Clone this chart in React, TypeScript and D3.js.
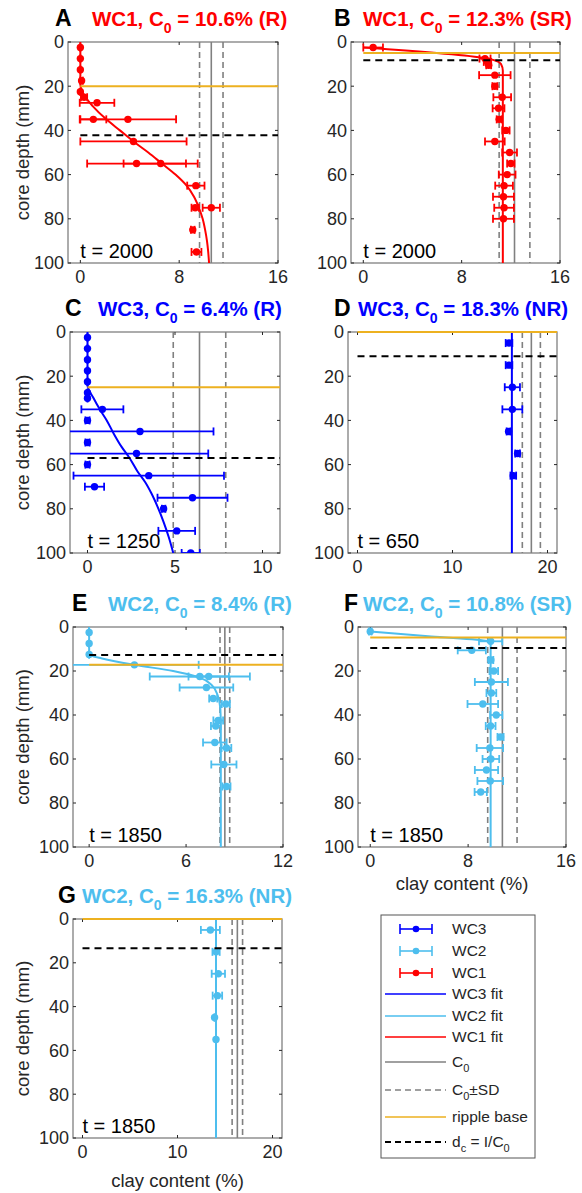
import * as d3 from "d3";

const RED = "#ff0000";
const BLUE = "#0000ff";
const CYAN = "#4dbeee";
const ORANGE = "#edb120";
const GRAY = "#808080";
const TXT = "#262626";
const FONT = "'Liberation Sans', Arial, sans-serif";

// ---- data: depth (mm), clay content (%), +/- error ----
// A: WC1 (R)
const depthA = [2.5, 7.5, 12.5, 17.5, 22.5, 25, 27.5, 35, 35, 45, 55, 55, 65, 75, 75, 85, 95];
const clayA = [0, 0, 0, 0.1, 0, 0.3, 1.35, 1.05, 3.85, 4.3, 4.55, 6.5, 9.35, 9.3, 10.6, 9.1, 9.4];
const errA = [0, 0, 0, 0.1, 0, 0.25, 1.4, 1.05, 3.9, 4.3, 4.0, 3.0, 0.7, 0.3, 0.7, 0.15, 0.4];
const fitA: [number, number][] = [
  [0, 0], [0, 19], [0.3, 24], [1.0, 29], [2.1, 35], [3.2, 40], [4.3, 45], [5.5, 50], [6.6, 55],
  [7.7, 60], [8.6, 65], [9.2, 70], [9.6, 75], [9.9, 80], [10.1, 85], [10.25, 90], [10.35, 95], [10.42, 100],
];

// B: WC1 (SR)
const depthB = [2.5, 7.5, 9, 10.5, 15, 20, 25, 30, 35, 40, 45, 50, 55, 60, 65, 70, 75, 80];
const clayB = [0.8, 9.9, 10.1, 10.2, 10.7, 10.7, 11.3, 11.0, 11.05, 11.6, 10.7, 11.9, 12.0, 11.7, 11.45, 11.4, 11.45, 11.4];
const errB = [0.8, 0.45, 0.3, 0.2, 1.28, 0.2, 0.72, 0.48, 0.2, 0.3, 0.8, 0.6, 0.3, 0.68, 0.72, 0.85, 0.8, 0.85];
const fitB: [number, number][] = [
  [0, 2.5], [9.9, 7.3], [10.8, 8.5], [11.2, 10], [11.35, 13], [11.35, 100],
];

// C: WC3 (R)
const depthC = [2.5, 7.5, 12.5, 17.5, 22.5, 27.5, 30, 35, 40, 45, 50, 55, 60, 65, 70, 75, 80, 90, 100];
const clayC = [0, 0, 0, 0, 0, 0, 0, 0.85, 0, 3.0, 0, 2.8, 0, 3.5, 0.4, 6.0, 4.35, 5.1, 5.9];
const errC = [0, 0, 0, 0, 0, 0, 0, 1.2, 0.12, 4.2, 0.12, 4.1, 0.12, 4.3, 0.55, 2.0, 0.1, 1.05, 0.52];
const fitC: [number, number][] = [
  [0, 0], [0, 24], [0.35, 30], [0.7, 35], [1.1, 40], [1.5, 46], [1.95, 52], [2.4, 57], [2.85, 63],
  [3.3, 68], [3.65, 73], [4.0, 79], [4.35, 86], [4.65, 93], [4.9, 100],
];

// D: WC3 (NR)
const depthD = [5, 15, 25, 35, 45, 55, 65];
const clayD = [15.95, 15.95, 16.3, 16.3, 15.9, 16.85, 16.4];
const errD = [0.35, 0.35, 0.8, 1.05, 0.2, 0.25, 0.3];
const fitD: [number, number][] = [[16.25, 0], [16.25, 100]];

// E: WC2 (R)
const depthE = [2.5, 7.5, 12.5, 17.2, 22.5, 22.5, 27.5, 32.5, 35, 42.5, 45, 52.5, 55, 62.5, 72.5];
const clayE = [0, 0, 0, 2.8, 6.85, 7.4, 7.26, 7.68, 8.46, 7.99, 7.84, 7.78, 8.5, 8.34, 8.5];
const errE = [0, 0, 0, 3.98, 3.1, 1.25, 1.66, 0.25, 0.25, 0.3, 0.3, 0.73, 0.3, 0.78, 0.25];
const fitE: [number, number][] = [
  [0, 0], [0, 12.5], [0.8, 14.3], [2.8, 17.2], [5.2, 20], [6.85, 23], [7.6, 26.5], [7.95, 31],
  [8.12, 37], [8.15, 45], [8.15, 100],
];

// F: WC2 (SR)
const depthF = [2, 6.5, 10.6, 15, 20, 25, 30, 35, 40, 45, 50, 55, 60, 65, 70, 75];
const clayF = [0, 9.84, 8.3, 9.86, 10.1, 9.9, 9.9, 9.2, 10.3, 9.84, 10.65, 9.78, 9.86, 9.5, 9.81, 9.03];
const errF = [0.1, 0.95, 1.15, 0.2, 0.35, 1.35, 0.4, 1.25, 0.5, 0.4, 0.25, 1.08, 0.68, 0.95, 1.05, 0.5];
const fitF: [number, number][] = [[0, 2], [5, 4.3], [9.5, 6.3], [9.84, 7.5], [9.84, 100]];

// G: WC2 (NR)
const depthG = [5, 15, 25, 35, 45, 55];
const clayG = [13.46, 14.06, 14.3, 14.2, 13.9, 14.05];
const errG = [1.0, 0.38, 0.7, 0.5, 0, 0];
const fitG: [number, number][] = [[14.05, 0], [14.05, 100]];

// panel parameters
const panelIds = ["A", "B", "C", "D", "E", "F", "G"];
const wells = ["WC1", "WC1", "WC3", "WC3", "WC2", "WC2", "WC2"];
const c0 = [10.6, 12.3, 6.4, 18.3, 8.4, 10.8, 16.3];
const c0sd = [0.95, 1.25, 1.5, 0.95, 0.3, 1.2, 0.55];
const regime = ["(R)", "(SR)", "(R)", "(NR)", "(R)", "(SR)", "(NR)"];
const times = [2000, 2000, 1250, 650, 1850, 1850, 1850];
const rippleBase = [20, 5, 25, 0, 17.2, 4.8, 0];
const dcDepth = [42.2, 8.3, 57, 11, 12.7, 9.6, 13.4];
const xMax = [16, 16, 11, 21, 12, 16, 21];
const xTicks = [[0, 8, 16], [0, 8, 16], [0, 5, 10], [0, 10, 20], [0, 6, 12], [0, 8, 16], [0, 10, 20]];
const yTicks = [0, 20, 40, 60, 80, 100];
const depths = [depthA, depthB, depthC, depthD, depthE, depthF, depthG];
const clays = [clayA, clayB, clayC, clayD, clayE, clayF, clayG];
const errs = [errA, errB, errC, errD, errE, errF, errG];
const fits = [fitA, fitB, fitC, fitD, fitE, fitF, fitG];

const wellColor: Record<string, string> = { WC1: RED, WC2: CYAN, WC3: BLUE };

const legendLabels = ["WC3", "WC2", "WC1", "WC3 fit", "WC2 fit", "WC1 fit", "C0", "C0±SD", "ripple base", "dc"];

// ---- layout ----
const layout: Record<string, { box: number[]; letterX: number; titleX: number; yLabel: boolean; xLabelDy: number }> = {
  A: { box: [68, 42, 278, 263], letterX: 55, titleX: 92, yLabel: true, xLabelDy: 0 },
  B: { box: [351, 42, 560, 263], letterX: 334, titleX: 363, yLabel: false, xLabelDy: 0 },
  C: { box: [70, 332, 280, 553], letterX: 65, titleX: 98, yLabel: true, xLabelDy: 0 },
  D: { box: [348, 332, 557, 553], letterX: 334, titleX: 358, yLabel: false, xLabelDy: 0 },
  E: { box: [73, 627, 283, 847], letterX: 72, titleX: 108, yLabel: true, xLabelDy: 0 },
  F: { box: [358, 627, 566, 847], letterX: 344, titleX: 363, yLabel: false, xLabelDy: 43 },
  G: { box: [73, 919, 282, 1138], letterX: 58, titleX: 82, yLabel: true, xLabelDy: 49 },
};

function Panel({ i }: { i: number }) {
  const id = panelIds[i];
  const L = layout[id];
  const [x0, y0, x1, y1] = L.box;
  const color = wellColor[wells[i]];
  const x = d3.scaleLinear().domain([-1, xMax[i]]).range([x0, x1]);
  const y = d3.scaleLinear().domain([0, 100]).range([y0, y1]);
  const line = d3
    .line<[number, number]>()
    .x((d) => x(d[0]))
    .y((d) => y(d[1]))
    .curve(d3.curveMonotoneY);
  const pts = depths[i].map((d, k) => ({ depth: d, clay: clays[i][k], err: errs[i][k] }));
  const clipId = `clip-${id}`;
  const tick = 3;

  return (
    <g>
      <defs>
        <clipPath id={clipId}>
          <rect x={x0} y={y0} width={x1 - x0} height={y1 - y0} />
        </clipPath>
      </defs>

      {/* axes box + inside ticks */}
      <rect x={x0} y={y0} width={x1 - x0} height={y1 - y0} fill="white" stroke={GRAY} strokeWidth={1.3} />
      {xTicks[i].map((t) => (
        <g key={`xt${t}`}>
          <line x1={x(t)} x2={x(t)} y1={y1} y2={y1 - tick} stroke={TXT} strokeWidth={1} />
          <line x1={x(t)} x2={x(t)} y1={y0} y2={y0 + tick} stroke={TXT} strokeWidth={1} />
          <text x={x(t)} y={y1 + 20} textAnchor="middle" fontSize={18} fill={TXT}>
            {t}
          </text>
        </g>
      ))}
      {yTicks.map((t) => (
        <g key={`yt${t}`}>
          <line x1={x0} x2={x0 + tick} y1={y(t)} y2={y(t)} stroke={TXT} strokeWidth={1} />
          <line x1={x1} x2={x1 - tick} y1={y(t)} y2={y(t)} stroke={TXT} strokeWidth={1} />
          <text x={x0 - 4} y={y(t)} dy="0.36em" textAnchor="end" fontSize={18} fill={TXT}>
            {t}
          </text>
        </g>
      ))}

      <g clipPath={`url(#${clipId})`}>
        {/* C0 and C0 +/- SD */}
        <line x1={x(c0[i])} x2={x(c0[i])} y1={y0} y2={y1} stroke={GRAY} strokeWidth={1.6} />
        {[c0[i] - c0sd[i], c0[i] + c0sd[i]].map((v, k) => (
          <line key={k} x1={x(v)} x2={x(v)} y1={y0} y2={y1} stroke={GRAY} strokeWidth={1.6} strokeDasharray="6 4" />
        ))}

        {/* error bars */}
        {pts.map((p, k) => {
          const cy = y(p.depth);
          const xl = x(p.clay - p.err);
          const xr = x(p.clay + p.err);
          return (
            <g key={k} stroke={color} strokeWidth={1.8}>
              <line x1={xl} x2={xr} y1={cy} y2={cy} />
              <line x1={xl} x2={xl} y1={cy - 4} y2={cy + 4} />
              <line x1={xr} x2={xr} y1={cy - 4} y2={cy + 4} />
            </g>
          );
        })}
        {pts.map((p, k) => (
          <circle key={`c${k}`} cx={x(p.clay)} cy={y(p.depth)} r={3.7} fill={color} />
        ))}

        {/* model fit */}
        <path d={line(fits[i]) ?? ""} fill="none" stroke={color} strokeWidth={2} />
      </g>

      {/* ripple base */}
      <line x1={x(0)} x2={x1} y1={y(rippleBase[i])} y2={y(rippleBase[i])} stroke={ORANGE} strokeWidth={2} />
      {/* d_c */}
      <line x1={x(0)} x2={x1} y1={y(dcDepth[i])} y2={y(dcDepth[i])} stroke="#000" strokeWidth={2} strokeDasharray="7 5" />

      <text x={x(0)} y={y1 - 5} fontSize={20} fill="#000">
        t = {times[i]}
      </text>

      {/* title */}
      <text x={L.letterX} y={y0 - 16} fontSize={23} fontWeight="bold" fill="#000">
        {id}
      </text>
      <text x={L.titleX} y={y0 - 16} fontSize={20.5} fontWeight="bold" fill={color}>
        {wells[i]}, C
        <tspan fontSize={14} dy={7}>0</tspan>
        <tspan dy={-7}>{` = ${c0[i]}% ${regime[i]}`}</tspan>
      </text>

      {L.yLabel && (
        <text transform={`translate(29, ${(y0 + y1) / 2}) rotate(-90)`} textAnchor="middle" fontSize={18.5} fill={TXT}>
          core depth (mm)
        </text>
      )}
      {L.xLabelDy > 0 && (
        <text x={(x0 + x1) / 2} y={y1 + L.xLabelDy} textAnchor="middle" fontSize={18.5} fill={TXT}>
          clay content (%)
        </text>
      )}
    </g>
  );
}

function Legend() {
  const bx = 381;
  const by = 915;
  const bw = 154;
  const bh = 243;
  const rowY = [929, 951, 973, 994, 1016, 1037, 1062, 1090, 1117, 1142];
  const styles = [
    { kind: "eb", color: BLUE },
    { kind: "eb", color: CYAN },
    { kind: "eb", color: RED },
    { kind: "ln", color: BLUE },
    { kind: "ln", color: CYAN },
    { kind: "ln", color: RED },
    { kind: "ln", color: GRAY },
    { kind: "dash", color: GRAY },
    { kind: "ln", color: ORANGE },
    { kind: "dashk", color: "#000" },
  ];
  const textX = 452;
  const sub = (main: string, s: string, rest = "") => (
    <>
      {main}
      <tspan fontSize={11} dy={5}>{s}</tspan>
      {rest && <tspan dy={-5}>{rest}</tspan>}
    </>
  );
  return (
    <g>
      <rect x={bx} y={by} width={bw} height={bh} fill="white" stroke="#555" strokeWidth={1} />
      {legendLabels.map((lab, k) => {
        const cy = rowY[k];
        const st = styles[k];
        let icon;
        if (st.kind === "eb") {
          icon = (
            <g stroke={st.color} strokeWidth={1.6}>
              <line x1={400} x2={432} y1={cy} y2={cy} />
              <line x1={400} x2={400} y1={cy - 5} y2={cy + 5} />
              <line x1={432} x2={432} y1={cy - 5} y2={cy + 5} />
              <circle cx={416} cy={cy} r={3.3} fill={st.color} stroke="none" />
            </g>
          );
        } else {
          icon = (
            <line
              x1={385}
              x2={446}
              y1={cy}
              y2={cy}
              stroke={st.color}
              strokeWidth={st.kind === "dashk" ? 2 : 1.6}
              strokeDasharray={st.kind === "ln" ? undefined : "6 4"}
            />
          );
        }
        let label: any = lab;
        if (lab === "C0") label = sub("C", "0");
        if (lab === "C0±SD") label = sub("C", "0", "±SD");
        if (lab === "dc") label = (
          <>
            d<tspan fontSize={11} dy={5}>c</tspan>
            <tspan dy={-5}> = I/C</tspan>
            <tspan fontSize={11} dy={5}>0</tspan>
          </>
        );
        return (
          <g key={k}>
            {icon}
            <text x={textX} y={cy + 5} fontSize={15.5} fill={TXT}>
              {label}
            </text>
          </g>
        );
      })}
    </g>
  );
}

export default function App() {
  return (
    <svg
      width={582}
      height={1193}
      style={{ position: "absolute", left: 0, top: 0, background: "white", fontFamily: FONT }}
    >
      {panelIds.map((_, i) => (
        <Panel key={i} i={i} />
      ))}
      <Legend />
    </svg>
  );
}
